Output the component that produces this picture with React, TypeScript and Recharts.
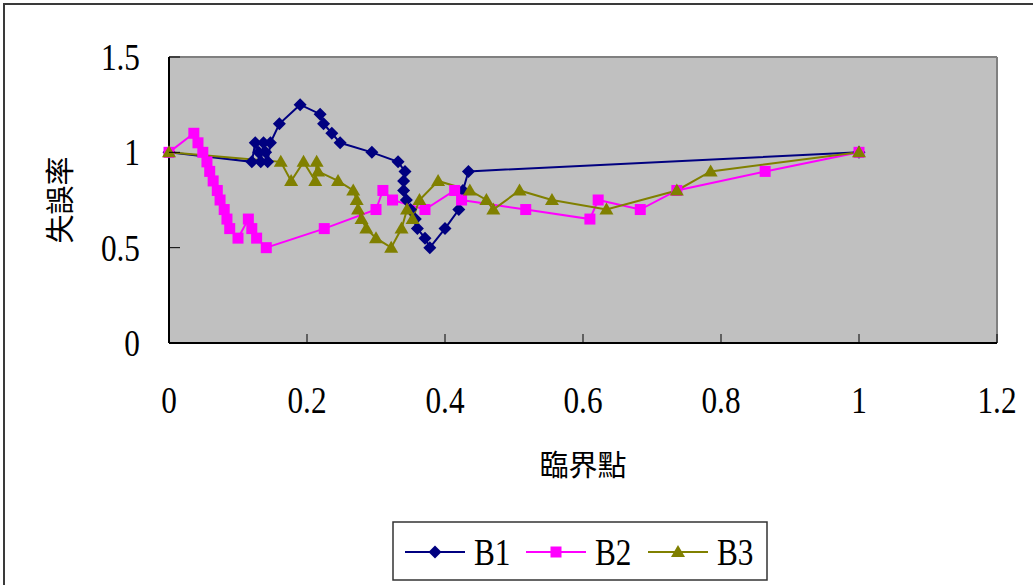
import React from "react";
import {
  LineChart,
  Line,
  XAxis,
  YAxis,
  CartesianGrid,
  ReferenceLine,
  Label,
} from "recharts";

// Critical point (x) vs. error rate (y) for three settings
const B1_X = [0, 0.12, 0.125, 0.13, 0.133, 0.137, 0.14, 0.143, 0.147, 0.16, 0.19, 0.219, 0.224, 0.236, 0.248, 0.294, 0.332, 0.342, 0.34, 0.34, 0.344, 0.35, 0.357, 0.36, 0.371, 0.378, 0.4, 0.42, 0.426, 0.434, 1];
const B1_Y = [1, 0.95, 1.05, 1.0, 0.95, 1.05, 1.0, 0.95, 1.05, 1.15, 1.25, 1.2, 1.15, 1.1, 1.05, 1.0, 0.95, 0.9, 0.85, 0.8, 0.75, 0.7, 0.65, 0.6, 0.55, 0.5, 0.6, 0.7, 0.8, 0.9, 1];

const B2_X = [0, 0.036, 0.042, 0.049, 0.055, 0.059, 0.064, 0.07, 0.074, 0.08, 0.084, 0.088, 0.1, 0.115, 0.12, 0.127, 0.141, 0.225, 0.3, 0.31, 0.324, 0.371, 0.414, 0.424, 0.517, 0.61, 0.622, 0.683, 0.736, 0.864, 1];
const B2_Y = [1, 1.1, 1.05, 1.0, 0.95, 0.9, 0.85, 0.8, 0.75, 0.7, 0.65, 0.6, 0.55, 0.65, 0.6, 0.55, 0.5, 0.6, 0.7, 0.8, 0.75, 0.7, 0.8, 0.75, 0.7, 0.65, 0.75, 0.7, 0.8, 0.9, 1];

const B3_X = [0, 0.162, 0.177, 0.195, 0.212, 0.214, 0.216, 0.245, 0.267, 0.272, 0.274, 0.279, 0.286, 0.3, 0.322, 0.337, 0.345, 0.353, 0.363, 0.39, 0.436, 0.46, 0.47, 0.508, 0.555, 0.634, 0.736, 0.785, 1];
const B3_Y = [1, 0.95, 0.85, 0.95, 0.85, 0.95, 0.9, 0.85, 0.8, 0.75, 0.7, 0.65, 0.6, 0.55, 0.5, 0.6, 0.7, 0.65, 0.75, 0.85, 0.8, 0.75, 0.7, 0.8, 0.75, 0.7, 0.8, 0.9, 1];

const X_TICKS = [0, 0.2, 0.4, 0.6, 0.8, 1, 1.2];
const Y_TICKS = [0, 0.5, 1, 1.5];
const SERIES_NAMES = ["B1", "B2", "B3"];
const X_TITLE = "臨界點";
const Y_TITLE = "失誤率";

const COLORS = ["#000080", "#FF00FF", "#808000"];

const toPoints = (xs: number[], ys: number[]) => xs.map((x, i) => ({ x, y: ys[i] }));
const b1 = toPoints(B1_X, B1_Y);
const b2 = toPoints(B2_X, B2_Y);
const b3 = toPoints(B3_X, B3_Y);

const SERIF = '"Liberation Serif", "DejaVu Serif", serif';
const CJK = '"Noto Sans CJK TC", "Noto Sans CJK SC", sans-serif';

type MarkerKind = "diamond" | "square" | "triangle";

function Marker({ kind, cx, cy, color }: { kind: MarkerKind; cx: number; cy: number; color: string }) {
  if (kind === "diamond") {
    return (
      <polygon
        points={`${cx},${cy - 6.5} ${cx + 6.5},${cy} ${cx},${cy + 6.5} ${cx - 6.5},${cy}`}
        fill={color}
      />
    );
  }
  if (kind === "square") {
    return <rect x={cx - 5.5} y={cy - 5.5} width={11} height={11} fill={color} />;
  }
  return (
    <polygon
      points={`${cx},${cy - 7} ${cx + 7},${cy + 5} ${cx - 7},${cy + 5}`}
      fill={color}
    />
  );
}

const makeDot = (kind: MarkerKind, color: string) => (props: any) => {
  const { cx, cy, index } = props;
  if (cx == null || cy == null) return <g key={`d-${index}`} />;
  return (
    <g key={`d-${kind}-${index}`}>
      <Marker kind={kind} cx={cx} cy={cy} color={color} />
    </g>
  );
};

// Serif numerals, slightly tall and narrow
function SerifText({ x, y, anchor, children }: { x: number; y: number; anchor: "start" | "middle" | "end"; children: React.ReactNode }) {
  return (
    <g transform={`translate(${x} ${y}) scale(0.92 1.12)`}>
      <text
        x={0}
        y={0}
        textAnchor={anchor}
        style={{ fontFamily: SERIF, fontSize: 34 }}
        fill="#000"
      >
        {children}
      </text>
    </g>
  );
}

const XTick = (props: any) => {
  const { x, y, payload } = props;
  return (
    <g>
      <line x1={x} y1={y} x2={x} y2={y - 9} stroke="#000" strokeWidth={1} />
      <SerifText x={x} y={y + 70} anchor="middle">
        {String(payload.value)}
      </SerifText>
    </g>
  );
};

const YTick = (props: any) => {
  const { x, y, payload } = props;
  return (
    <g>
      <line x1={x} y1={y} x2={x + 11} y2={y} stroke="#000" strokeWidth={1} />
      <SerifText x={x - 29} y={y + 13} anchor="end">
        {String(payload.value)}
      </SerifText>
    </g>
  );
};

const XTitle = (props: any) => {
  const vb = props.viewBox || {};
  return (
    <text
      x={vb.x + vb.width / 2}
      y={vb.y + 133}
      textAnchor="middle"
      style={{ fontFamily: CJK, fontSize: 29 }}
      fill="#000"
    >
      {X_TITLE}
    </text>
  );
};

const YTitle = (props: any) => {
  const vb = props.viewBox || {};
  const cx = 58;
  const cy = vb.y + vb.height / 2;
  return (
    <text
      x={cx}
      y={cy}
      transform={`rotate(-90 ${cx} ${cy})`}
      textAnchor="middle"
      dominantBaseline="central"
      style={{ fontFamily: CJK, fontSize: 29 }}
      fill="#000"
    >
      {Y_TITLE}
    </text>
  );
};

const MARKERS: MarkerKind[] = ["diamond", "square", "triangle"];

function LegendBox() {
  const itemX = [13, 134, 256];
  return (
    <svg
      width={376}
      height={60}
      style={{ position: "absolute", left: 392, top: 521 }}
    >
      <rect x={1} y={1} width={374} height={58} fill="#fff" stroke="#333" strokeWidth={1.5} />
      {SERIES_NAMES.map((name, i) => {
        const x0 = itemX[i];
        return (
          <g key={name}>
            <line x1={x0} y1={31} x2={x0 + 60} y2={31} stroke={COLORS[i]} strokeWidth={2} />
            <Marker kind={MARKERS[i]} cx={x0 + 30} cy={31} color={COLORS[i]} />
            <SerifText x={x0 + 69} y={44} anchor="start">
              {name}
            </SerifText>
          </g>
        );
      })}
    </svg>
  );
}

export default function App() {
  return (
    <div
      style={{
        position: "absolute",
        left: 0,
        top: 0,
        width: 1033,
        height: 585,
        overflow: "hidden",
        background: "#fff",
      }}
    >
      <div
        style={{
          position: "absolute",
          left: 3,
          top: 3,
          width: 1100,
          height: 700,
          borderTop: "2px solid #3a3a3a",
          borderLeft: "2px solid #3a3a3a",
        }}
      />
      <div style={{ position: "absolute", left: 0, top: 0 }}>
        <LineChart
          width={1033}
          height={585}
          data={b1}
          margin={{ top: 57, right: 36, left: 0, bottom: 182 }}
        >
          <CartesianGrid horizontal={false} vertical={false} fill="#C0C0C0" />
          <ReferenceLine y={1.5} stroke="#808080" strokeWidth={2} />
          <ReferenceLine x={1.2} stroke="#808080" strokeWidth={2} />
          <XAxis
            type="number"
            dataKey="x"
            domain={[0, 1.2]}
            ticks={X_TICKS}
            interval={0}
            height={60}
            tickSize={0}
            tickMargin={0}
            tickLine={false}
            axisLine={{ stroke: "#000", strokeWidth: 2 }}
            tick={<XTick />}
          >
            <Label content={<XTitle />} />
          </XAxis>
          <YAxis
            type="number"
            dataKey="y"
            domain={[0, 1.5]}
            ticks={Y_TICKS}
            interval={0}
            width={169}
            tickSize={0}
            tickMargin={0}
            tickLine={false}
            axisLine={{ stroke: "#000", strokeWidth: 2 }}
            tick={<YTick />}
          >
            <Label content={<YTitle />} />
          </YAxis>
          <Line
            data={b1}
            dataKey="y"
            name={SERIES_NAMES[0]}
            stroke={COLORS[0]}
            strokeWidth={2}
            dot={makeDot("diamond", COLORS[0])}
            activeDot={false}
            isAnimationActive={false}
          />
          <Line
            data={b2}
            dataKey="y"
            name={SERIES_NAMES[1]}
            stroke={COLORS[1]}
            strokeWidth={2}
            dot={makeDot("square", COLORS[1])}
            activeDot={false}
            isAnimationActive={false}
          />
          <Line
            data={b3}
            dataKey="y"
            name={SERIES_NAMES[2]}
            stroke={COLORS[2]}
            strokeWidth={2}
            dot={makeDot("triangle", COLORS[2])}
            activeDot={false}
            isAnimationActive={false}
          />
        </LineChart>
      </div>
      <LegendBox />
    </div>
  );
}
